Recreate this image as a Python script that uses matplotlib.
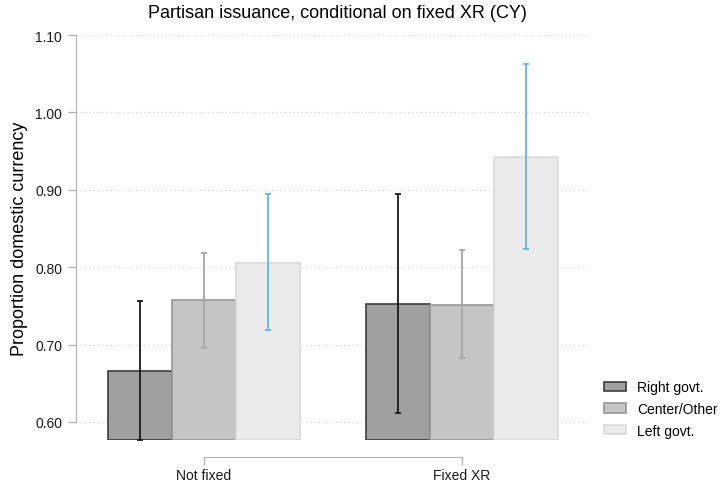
import matplotlib.pyplot as plt
import numpy as np

plt.rcParams['font.family'] = ['Liberation Sans', 'DejaVu Sans']

groups = ['Not fixed', 'Fixed XR']
series = ['Right govt.', 'Center/Other', 'Left govt.']

right_mean = [0.666, 0.753]
center_mean = [0.757, 0.751]
left_mean = [0.806, 0.943]

right_lo = [0.577, 0.612]
right_hi = [0.756, 0.895]
center_lo = [0.696, 0.683]
center_hi = [0.818, 0.822]
left_lo = [0.719, 0.824]
left_hi = [0.895, 1.062]

means = [right_mean, center_mean, left_mean]
lows = [right_lo, center_lo, left_lo]
highs = [right_hi, center_hi, left_hi]

fills = ['#a0a0a0', '#c5c5c5', '#ebebeb']
edges = ['#3c3c3c', '#979797', '#dadada']
err_colors = ['#1a1a1a', '#a6a6a6', '#5fb6ea']

base = 0.5767
width = 0.248
x = np.arange(len(groups))

fig = plt.figure(figsize=(7.2, 4.85), dpi=100)
ax = fig.add_axes([76 / 720, 1 - 441 / 485, (588 - 76) / 720, (441 - 36) / 485])

for i in range(3):
    pos = x + (i - 1) * width
    m = np.array(means[i])
    ax.bar(pos, m - base, width, bottom=base, color=fills[i], edgecolor=edges[i],
           linewidth=1.2, label=series[i], zorder=2)
    lo = np.array(lows[i])
    hi = np.array(highs[i])
    ax.errorbar(pos, (lo + hi) / 2, yerr=(hi - lo) / 2, fmt='none', ecolor=err_colors[i],
                elinewidth=1.3, capsize=2, capthick=1.3, zorder=3)

ax.set_xlim(-0.496, 1.488)
ax.set_ylim(base, 1.10)
ax.set_yticks([0.6, 0.7, 0.8, 0.9, 1.0, 1.1])
ax.set_yticklabels(['%.2f' % v for v in [0.6, 0.7, 0.8, 0.9, 1.0, 1.1]])
ax.set_xticks(x)
ax.set_xticklabels(groups)

ax.grid(axis='y', linestyle=(0, (1, 2.4)), color='#cfcfcf', linewidth=0.9, zorder=0)
ax.set_axisbelow(True)

for s in ['top', 'right']:
    ax.spines[s].set_visible(False)
ax.spines['left'].set_bounds(0.6, 1.1)
ax.spines['left'].set_color('#b4b4b4')
ax.spines['bottom'].set_position(('outward', 12))
ax.spines['bottom'].set_bounds(0, 1)
ax.spines['bottom'].set_color('#b4b4b4')
ax.tick_params(axis='y', length=6, width=1, color='#b4b4b4', pad=4, labelsize=10, labelcolor='#1a1a1a')
ax.tick_params(axis='x', length=6, width=1, color='#b4b4b4', pad=2, labelsize=10, labelcolor='#1a1a1a')

ax.set_ylabel('Proportion domestic currency', fontsize=13, labelpad=5)
fig.text(337 / 720, 1 - 14 / 485, 'Partisan issuance, conditional on fixed XR (CY)',
         ha='center', va='center', fontsize=13)

fig.legend(loc='center left', bbox_to_anchor=(604 / 720, 1 - 410 / 485), frameon=False,
           fontsize=10, handlelength=1.6, handleheight=0.65, labelspacing=0.55,
           handletextpad=0.8, borderpad=0, borderaxespad=0)

fig.savefig('out.png', dpi=100)
